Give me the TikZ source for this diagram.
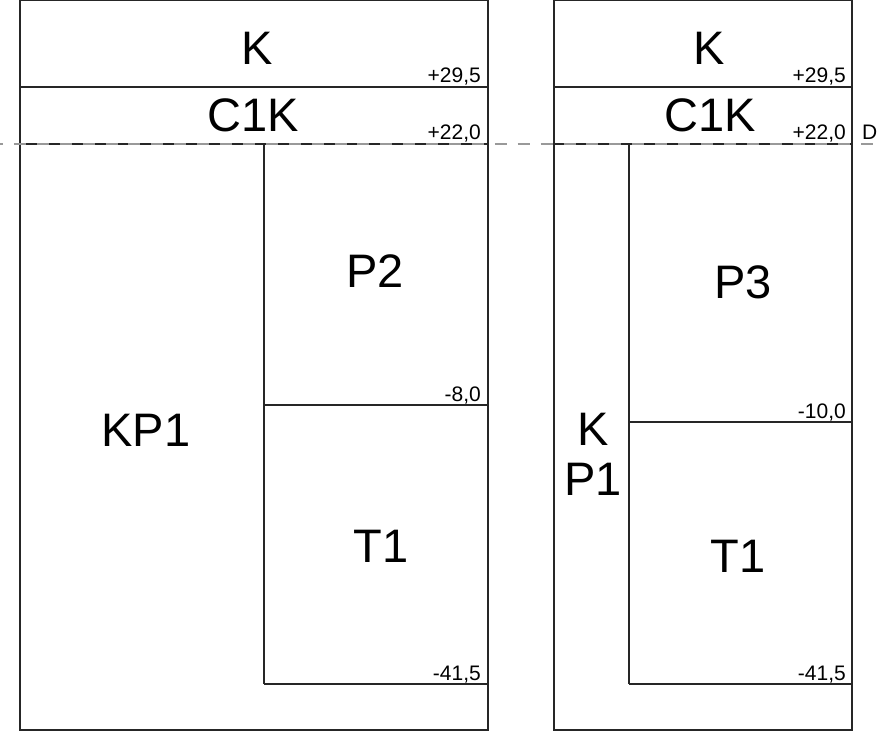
\documentclass[tikz,border=0pt]{standalone}
\usepackage{fontspec}
\setmainfont{Liberation Sans}
\begin{document}
\begin{tikzpicture}[x=1pt,y=-1pt,
  big/.style={font=\fontsize{47}{50}\selectfont, inner sep=0pt, anchor=base},
  lvl/.style={font=\fontsize{21}{22}\selectfont, inner sep=0pt, anchor=base east},
  wall/.style={draw=black!85, line width=1.3pt},
  datum/.style={draw=black!40, line width=1.3pt, dash pattern=on 12pt off 10.9pt, dash phase=9pt}]
\useasboundingbox (0,0) rectangle (883,738);
% left column
\coordinate (LA) at (20,0);   \coordinate (LB) at (488,730);
\coordinate (LK1) at (20,87); \coordinate (LK2) at (488,87);
\coordinate (LC1) at (20,144); \coordinate (LC2) at (488,144);
\coordinate (LV1) at (264,144); \coordinate (LV2) at (264,684);
\coordinate (LP1) at (264,405); \coordinate (LP2) at (488,405);
\coordinate (LT1) at (264,684); \coordinate (LT2) at (488,684);
% right column
\coordinate (RA) at (554,0);   \coordinate (RB) at (852,730);
\coordinate (RK1) at (554,87); \coordinate (RK2) at (852,87);
\coordinate (RC1) at (554,144); \coordinate (RC2) at (852,144);
\coordinate (RV1) at (629,144); \coordinate (RV2) at (629,684);
\coordinate (RP1) at (629,422); \coordinate (RP2) at (852,422);
\coordinate (RT1) at (629,684); \coordinate (RT2) at (852,684);
% datum line ends
\coordinate (D0) at (0,144); \coordinate (D1) at (883,144);

\draw[wall] (LA) rectangle (LB);
\draw[wall] (LK1) -- (LK2);
\draw[wall] (LC1) -- (LC2);
\draw[wall] (LV1) -- (LV2);
\draw[wall] (LP1) -- (LP2);
\draw[wall] (LT1) -- (LT2);

\draw[wall] (RA) rectangle (RB);
\draw[wall] (RK1) -- (RK2);
\draw[wall] (RC1) -- (RC2);
\draw[wall] (RV1) -- (RV2);
\draw[wall] (RP1) -- (RP2);
\draw[wall] (RT1) -- (RT2);

\draw[datum] (D0) -- (D1);

% left labels
\node[big] (lk) at (257.5,65) {K};
\node[big] (lc1k) at (253,132) {C1K};
\node[big] (lp2) at (375,287) {P2};
\node[big] (lkp1) at (146,446) {KP1};
\node[big] (lt1) at (381,562) {T1};
\node[lvl] (l295) at (481,83) {+29,5};
\node[lvl] (l220) at (481,140) {+22,0};
\node[lvl] (l80) at (481,401) {-8,0};
\node[lvl] (l415) at (481,680) {-41,5};

% right labels
\node[big] (rk) at (709,65) {K};
\node[big] (rc1k) at (710,132) {C1K};
\node[big] (rp3) at (743,298) {P3};
\node[big] (rk1) at (593,445) {K};
\node[big] (rp1) at (593,495) {P1};
\node[big] (rt1) at (738,572) {T1};
\node[lvl] (r295) at (846,83) {+29,5};
\node[lvl] (r220) at (846,140) {+22,0};
\node[lvl] (r100) at (846,418) {-10,0};
\node[lvl] (r415) at (846,680) {-41,5};
\node[font=\fontsize{21}{22}\selectfont, inner sep=0pt, anchor=base west] (dl) at (862,140) {D};
\end{tikzpicture}
\end{document}
